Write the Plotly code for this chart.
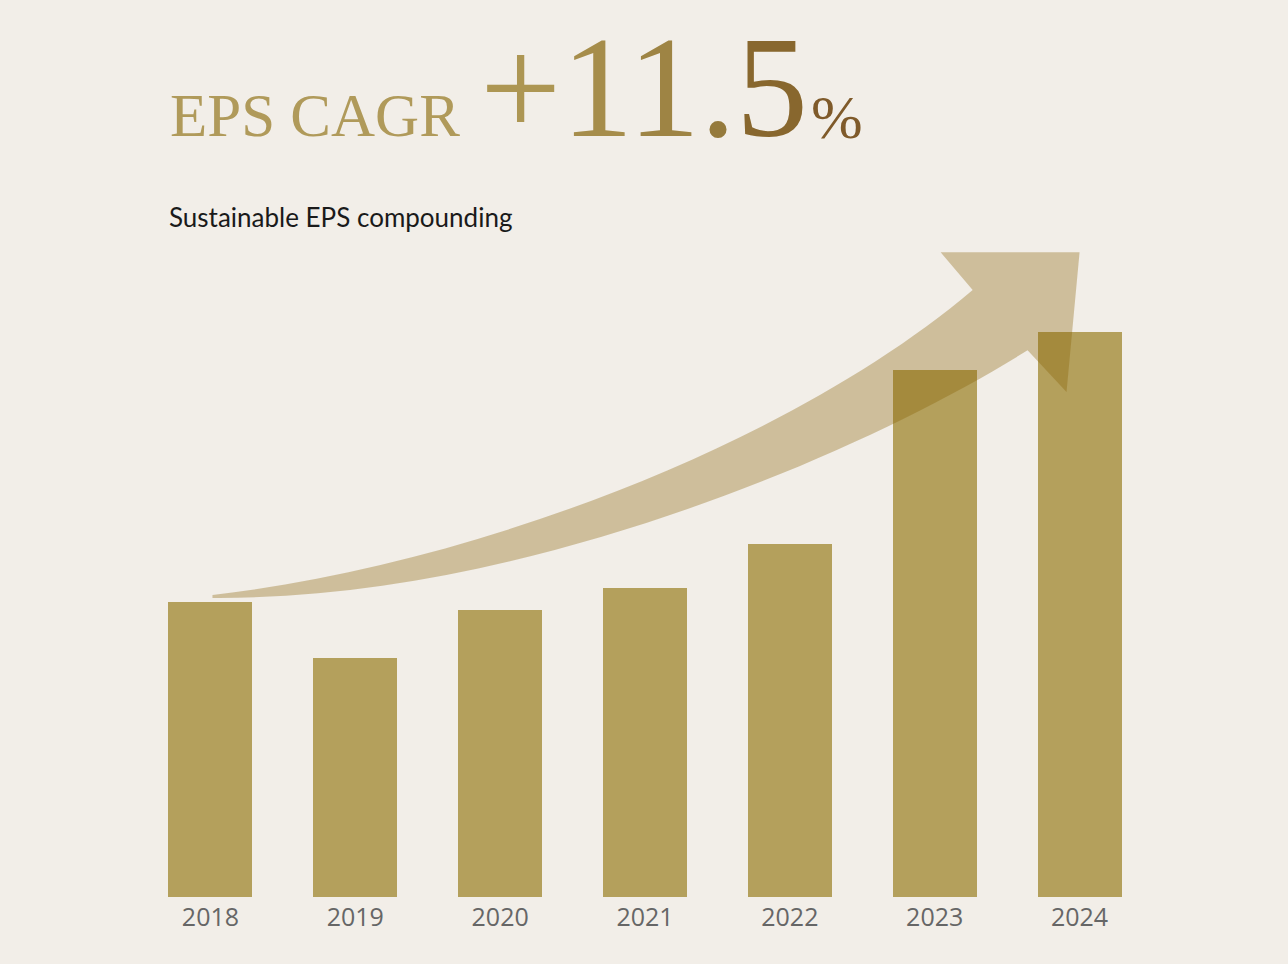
import plotly.graph_objects as go

# ---- data ----
years = ["2018", "2019", "2020", "2021", "2022", "2023", "2024"]
eps_index = [100.0, 81.0, 97.3, 104.7, 119.7, 178.6, 191.5]   # EPS, 2018 = 100
x_pos = list(range(len(years)))

title_main = "EPS CAGR"
cagr_text = "+11.5"
cagr_unit = "%"
subtitle = "Sustainable EPS compounding"

# ---- styles ----
BG = "#F2EEE8"
BAR = "#B4A05C"
ARROW = "rgba(133,95,0,0.33)"
GOLD_STEPS = ["#AD9653", "#A68D4B", "#9E8444", "#957A3C", "#88672E"]
SERIF = "Liberation Serif"

fig = go.Figure()
fig.add_trace(go.Bar(
    x=x_pos, y=eps_index, width=0.58,
    marker=dict(color=BAR, line=dict(width=0)),
    hoverinfo="skip",
))

# decorative growth arrow (data coordinates: x = bar index, y = EPS index)
arrow_path = (
    "M 0.014 102.4 "
    "C 1.793 112.5, 4.0 153.2, 5.262 205.8 "
    "L 5.041 218.6 L 6.0 218.6 L 5.910 171.2 L 5.641 185.4 "
    "C 4.483 149.8, 2.138 100.7, 0.014 101.4 Z"
)
fig.add_shape(type="path", path=arrow_path, xref="x", yref="y",
              fillcolor=ARROW, line=dict(width=0), layer="above")

# headline
big = "".join(f'<span style="color:{c}">{ch}</span>' for ch, c in zip(cagr_text, GOLD_STEPS))

fig.add_annotation(
    text=title_main, xref="x", yref="paper", x=-0.29, y=1.1228,
    xanchor="left", yanchor="middle", showarrow=False,
    font=dict(family=SERIF, size=61, color="#B09A5A"),
)
fig.add_annotation(
    text=big, xref="x", yref="paper", x=1.85, y=1.1625,
    xanchor="left", yanchor="middle", showarrow=False,
    font=dict(family=SERIF, size=144, color="#9E8444"),
)
fig.add_annotation(
    text=cagr_unit, xref="x", yref="paper", x=4.13, y=1.12,
    xanchor="left", yanchor="middle", showarrow=False,
    font=dict(family=SERIF, size=62, color="#7F5A2A"),
)
fig.add_annotation(
    text=subtitle, xref="x", yref="y", x=-0.30, y=224.4,
    xanchor="left", yanchor="bottom", showarrow=False, align="left",
    font=dict(family="Lato", size=26, color="#1A1A1A"),
)

fig.update_layout(
    width=1288, height=964,
    paper_bgcolor=BG, plot_bgcolor=BG,
    margin=dict(l=137.5, r=135.5, t=201, b=67),
    showlegend=False,
    bargap=0,
    xaxis=dict(
        range=[-0.5, 6.5], tickmode="array", tickvals=x_pos, ticktext=years,
        showgrid=False, zeroline=False, showline=False, ticks="",
        ticklabelstandoff=3,
        tickfont=dict(family="Open Sans", size=25, color="#666666"),
        fixedrange=True,
    ),
    yaxis=dict(
        range=[0, 236], visible=False, showgrid=False, zeroline=False,
        fixedrange=True,
    ),
)

fig.write_html(
    "out.html",
    config={"displayModeBar": False},
    post_script="document.body.style.margin='0';document.body.style.background='" + BG + "';",
)
